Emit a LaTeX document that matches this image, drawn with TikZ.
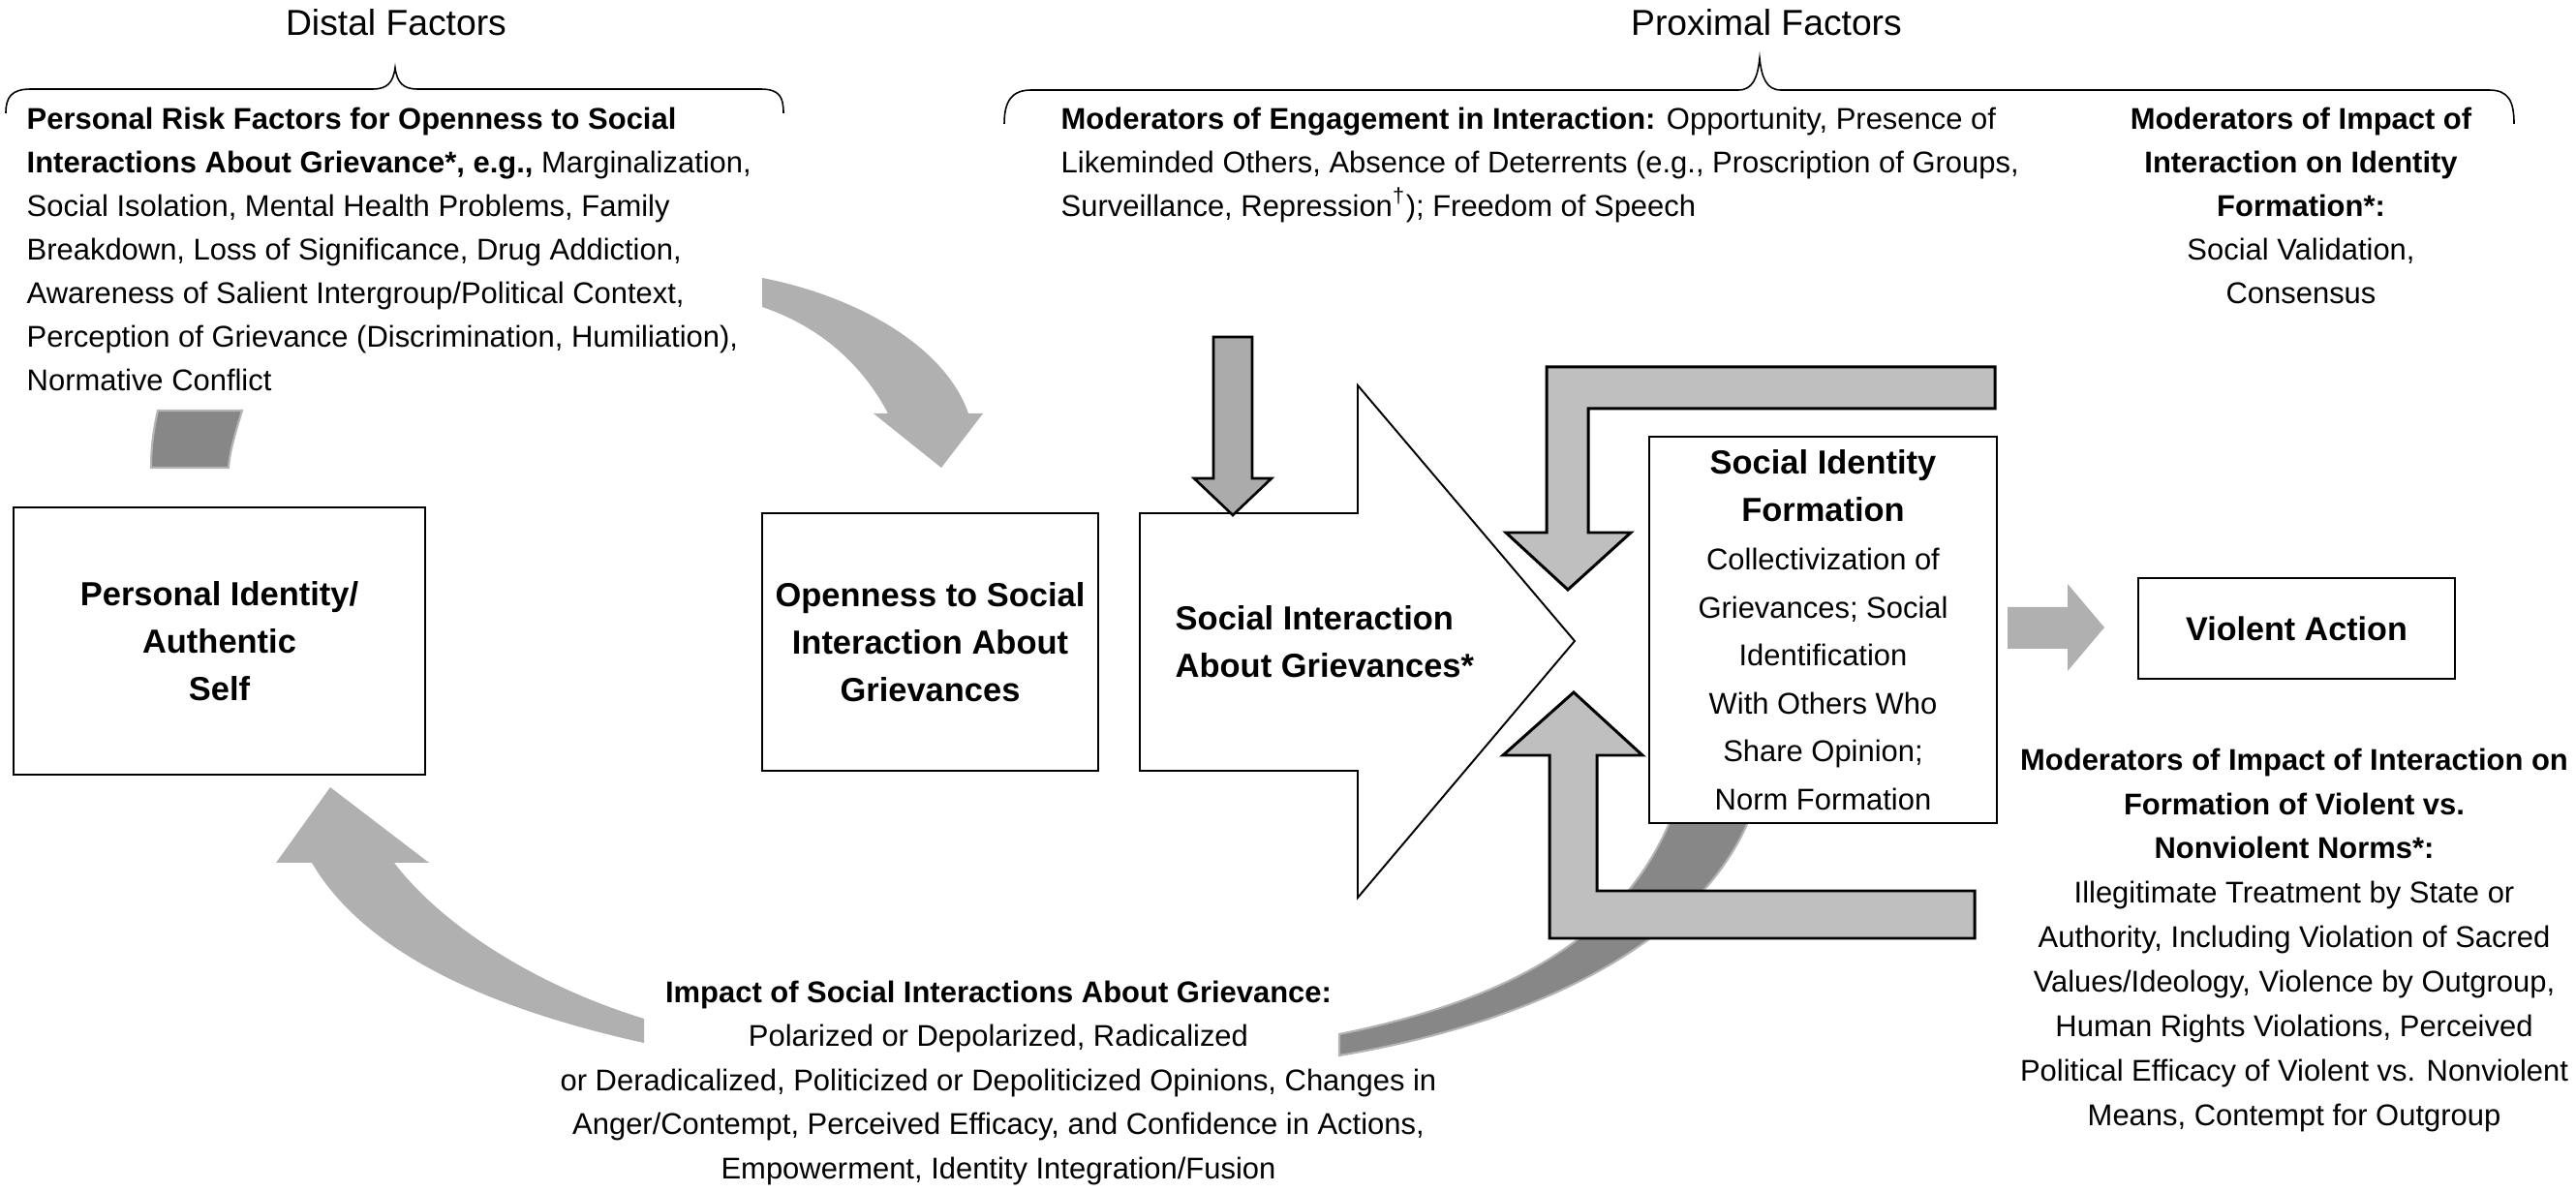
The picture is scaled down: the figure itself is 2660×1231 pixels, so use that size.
\documentclass[tikz,border=0pt]{standalone}
\usepackage{fontspec}
\setmainfont{Liberation Sans}
\definecolor{arrowgrey}{HTML}{B0B0B0}
\definecolor{brgrey}{HTML}{BFBFBF}
\definecolor{smgrey}{HTML}{ABABAB}
\definecolor{darkgrey}{HTML}{878787}
\definecolor{edgegrey}{HTML}{B4B4B4}
\begin{document}
\begin{tikzpicture}[x=0.01cm,y=-0.01cm,
  box/.style={draw=black,line width=0.75pt,fill=white,inner sep=0pt,align=center},
  lbl/.style={font=\fontsize{9.8}{13.9}\selectfont\bfseries},
  txt/.style={inner sep=0pt,font=\fontsize{8.8}{12.8}\selectfont},
  hdr/.style={inner sep=0pt,font=\fontsize{10.6}{12}\selectfont},
  flatarrow/.style={fill=arrowgrey,draw=none},
  outarrow/.style={fill=brgrey,draw=black,line width=0.85pt,line join=miter},
  smallarrow/.style={fill=smgrey,draw=black,line width=0.75pt,line join=miter},
  whitearrow/.style={fill=white,draw=black,line width=0.55pt,line join=miter},
  darkband/.style={fill=darkgrey,draw=edgegrey,line width=0.6pt},
  bracepath/.style={draw=black,line width=0.45pt}]
\useasboundingbox (0,0) rectangle (2660,1231);

% headers and braces
\node[hdr] (distal) at (409,23) {Distal Factors};
\node[hdr] (proximal) at (1824,23) {Proximal Factors};
\draw[bracepath] (6,117) .. controls (6,100) and (12,92) .. (32,92) -- (385,92)
  .. controls (400,92) and (406,85) .. (408,70) .. controls (410,85) and (416,92) .. (431,92)
  -- (785,92) .. controls (805,92) and (809,100) .. (809,117);
\draw[bracepath] (1037,128) .. controls (1037,104) and (1045,93) .. (1065,93) -- (1795,93)
  .. controls (1810,93) and (1815,80) .. (1817,60) .. controls (1819,80) and (1824,93) .. (1839,93)
  -- (2570,93) .. controls (2590,93) and (2596,104) .. (2596,128);

% dark bands
\draw[darkband] (163,424) -- (250,424) .. controls (242,450) and (237,468) .. (236,483)
  -- (156,483) .. controls (156,465) and (158,445) .. (163,424) -- cycle;
\draw[darkband] (1383,1068) .. controls (1570,1030) and (1690,960) .. (1735,820)
  -- (1815,820) .. controls (1780,950) and (1620,1050) .. (1383,1090) -- cycle;

% curved light arrows
\fill[flatarrow] (787,287) .. controls (880,305) and (975,355) .. (1000,427) -- (1015,427)
  -- (972,483) -- (902,427) -- (917,427) .. controls (895,385) and (855,340) .. (787,317) -- cycle;
\fill[flatarrow] (665,1052) .. controls (560,1020) and (460,960) .. (407,891) -- (443,891)
  -- (341,813) -- (285,891) -- (322,891) .. controls (380,990) and (520,1045) .. (665,1077) -- cycle;

% bracket arrows
\draw[outarrow] (2060,379) -- (1597,379) -- (1597,550) -- (1555,550) -- (1619,609)
  -- (1684,550) -- (1640,550) -- (1640,422) -- (2060,422) -- cycle;
\draw[outarrow] (2039,969) -- (1600,969) -- (1600,780) -- (1552,780) -- (1625,715)
  -- (1696,780) -- (1649,780) -- (1649,920) -- (2039,920) -- cycle;

% big white arrow
\draw[whitearrow] (1177,530) -- (1402,530) -- (1402,398) -- (1626,662) -- (1402,927)
  -- (1402,796) -- (1177,796) -- cycle;
\node[lbl,inner sep=0pt,anchor=west,align=left] (sia) at (1213,663) {Social Interaction\\About Grievances*};

% small moderator arrow
\draw[smallarrow] (1253,348) -- (1293,348) -- (1293,494) -- (1313,494) -- (1273,532)
  -- (1233,494) -- (1253,494) -- cycle;

% violent arrow
\fill[flatarrow] (2073,627) -- (2135,627) -- (2135,603) -- (2173,648) -- (2135,693)
  -- (2135,670) -- (2073,670) -- cycle;

% boxes
\node[box,lbl,minimum width=4.25cm,minimum height=2.76cm] (pid) at (226.5,662) {Personal Identity/\\Authentic\\Self};
\node[box,lbl,minimum width=3.47cm,minimum height=2.66cm] (open) at (960.5,663) {Openness to Social\\Interaction About\\Grievances};
\node[box,minimum width=3.59cm,minimum height=3.99cm,font=\fontsize{8.8}{14.1}\selectfont] (sid) at (1882.5,650.5)
  {{\fontsize{9.8}{14.1}\selectfont\bfseries Social Identity}\\{\fontsize{9.8}{14.1}\selectfont\bfseries Formation}\\Collectivization of\\Grievances; Social\\Identification\\With Others Who\\Share Opinion;\\Norm Formation};
\node[box,minimum width=3.27cm,minimum height=1.04cm,font=\fontsize{9.7}{12}\selectfont\bfseries] (va) at (2371.5,649) {Violent Action};

% text blocks
\node[txt,anchor=north west,align=left] (risk) at (27,110)
  {\textbf{Personal Risk Factors for Openness to Social}\\
   \textbf{Interactions About Grievance*, e.g.,} Marginalization,\\
   Social Isolation, Mental Health Problems, Family\\
   Breakdown, Loss of Significance, Drug Addiction,\\
   Awareness of Salient Intergroup/Political Context,\\
   Perception of Grievance (Discrimination, Humiliation),\\
   Normative Conflict};
\node[txt,anchor=north west,align=left] (engage) at (1095,110)
  {\textbf{Moderators of Engagement in Interaction:} Opportunity, Presence of\\
   Likeminded Others, Absence of Deterrents (e.g., Proscription of Groups,\\
   Surveillance, Repression\textsuperscript{\char"2020}); Freedom of Speech};
\node[txt,anchor=north,align=center] (idmod) at (2376,110)
  {\textbf{Moderators of Impact of}\\
   \textbf{Interaction on Identity}\\
   \textbf{Formation*:}\\
   Social Validation,\\
   Consensus};
\node[txt,anchor=north,align=center,font=\fontsize{8.8}{12.95}\selectfont] (impact) at (1031,1012)
  {\textbf{Impact of Social Interactions About Grievance:}\\
   Polarized or Depolarized, Radicalized\\
   or Deradicalized, Politicized or Depoliticized Opinions, Changes in\\
   Anger/Contempt, Perceived Efficacy, and Confidence in Actions,\\
   Empowerment, Identity Integration/Fusion};
\node[txt,anchor=north,align=center,font=\fontsize{8.8}{13.05}\selectfont] (violmod) at (2369,772)
  {\textbf{Moderators of Impact of Interaction on}\\
   \textbf{Formation of Violent vs.}\\
   \textbf{Nonviolent Norms*:}\\
   Illegitimate Treatment by State or\\
   Authority, Including Violation of Sacred\\
   Values/Ideology, Violence by Outgroup,\\
   Human Rights Violations, Perceived\\
   Political Efficacy of Violent vs. Nonviolent\\
   Means, Contempt for Outgroup};
\end{tikzpicture}
\end{document}
